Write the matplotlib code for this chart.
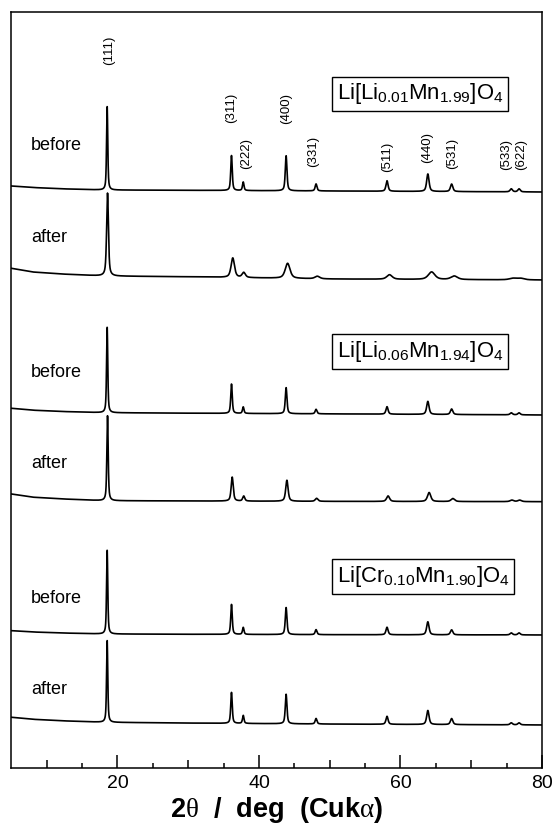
import numpy as np
import matplotlib
matplotlib.use("Agg")
import matplotlib.pyplot as plt

plt.rcParams['font.family'] = ['Liberation Sans', 'DejaVu Sans']
plt.rcParams['mathtext.fontset'] = 'custom'
plt.rcParams['mathtext.rm'] = 'Liberation Sans'
plt.rcParams['mathtext.it'] = 'Liberation Serif'
plt.rcParams['mathtext.bf'] = 'Liberation Sans:bold'

# peak indices and positions (2theta, deg)
hkl = ['(111)', '(311)', '(222)', '(400)', '(331)', '(511)', '(440)', '(531)', '(533)', '(622)']
pos_before = [18.55, 36.12, 37.78, 43.84, 48.07, 58.10, 63.87, 67.23, 75.66, 76.76]
pos_after1 = [18.60, 36.30, 37.85, 44.05, 48.25, 58.45, 64.40, 67.60, 75.90, 77.00]
pos_after2 = [18.60, 36.22, 37.85, 43.95, 48.15, 58.25, 64.05, 67.40, 75.75, 76.85]

# peak heights (arbitrary units) for each pattern, top to bottom
h1 = [84, 35, 8.5, 35, 7, 10.5, 17.5, 7.5, 3, 3]
h2 = [83, 19.5, 5, 15, 2.5, 4.5, 7.5, 3.5, 1.5, 1.5]
h3 = [86, 29.4, 6.5, 26, 4.5, 7.5, 13, 5.5, 2, 2]
h4 = [85, 24, 5, 21, 3, 5.5, 9, 3, 1.5, 1.5]
h5 = [84.3, 30, 7, 27, 5, 7.5, 13, 5, 2, 2]
h6 = [82.3, 31, 8, 29.5, 5.5, 8, 14, 6, 2, 2]

# peak widths (FWHM, deg)
w_sharp = [0.20, 0.25, 0.25, 0.28, 0.30, 0.35, 0.40, 0.40, 0.40, 0.40]
w_broad = [0.30, 0.57, 0.55, 0.80, 0.80, 0.90, 1.10, 1.10, 1.20, 1.20]
w_mid = [0.22, 0.35, 0.35, 0.40, 0.45, 0.50, 0.55, 0.60, 0.60, 0.60]

# background shape (relative to each baseline)
bg_x = [5, 8, 12, 18, 30, 50, 80]
bg1 = [4, 2.5, 1.2, 0, -0.3, -1, -2]
bg2 = [7.7, 4, 2, 0, -0.8, -3, -4]
bg3 = [4.4, 2.5, 1.2, 0, -0.5, -1.2, -2.3]
bg4 = [6.7, 3.5, 1.8, 0, -0.3, -0.7, -1]
bg5 = [3.3, 2, 1, 0, -0.3, -0.7, -1]
bg6 = [5, 3, 1.5, 0, -0.8, -1.8, -2.7]

offsets = [578.5, 492.5, 355.8, 267.8, 134.5, 46.2]
states = ['before', 'after', 'before', 'after', 'before', 'after']
state_y = [622.5, 530.8, 395.8, 304.5, 169.5, 78.8]

samples = [r'Li[Li$_{0.01}$Mn$_{1.99}$]O$_4$',
           r'Li[Li$_{0.06}$Mn$_{1.94}$]O$_4$',
           r'Li[Cr$_{0.10}$Mn$_{1.90}$]O$_4$']
sample_y = [674.5, 417.3, 192]

hkl_x = [18.81, 36.05, 38.13, 43.78, 47.69, 58.14, 63.71, 67.37, 74.91, 77.02]
hkl_y = [718.5, 660.5, 614.7, 660.2, 617.2, 611.5, 620.5, 615.2, 613.5, 613.5]

patterns = [
    (pos_before, h1, w_sharp, bg1),
    (pos_after1, h2, w_broad, bg2),
    (pos_before, h3, w_sharp, bg3),
    (pos_after2, h4, w_mid, bg4),
    (pos_before, h5, w_sharp, bg5),
    (pos_before, h6, w_sharp, bg6),
]


def profile(x, centers, heights, fwhm, eta=0.6):
    y = np.zeros_like(x)
    for c, h, w in zip(centers, heights, fwhm):
        g = np.exp(-4 * np.log(2) * ((x - c) / w) ** 2)
        l = 1 / (1 + 4 * ((x - c) / w) ** 2)
        y += h * (eta * l + (1 - eta) * g)
    return y


tt = np.linspace(5, 80, 4000)

fig = plt.figure(figsize=(5.56, 8.24), dpi=100)
ax = fig.add_axes([0.0203, 0.0674, 0.9545, 0.9184])

for (p, h, w, bg), off in zip(patterns, offsets):
    y = off + np.interp(tt, bg_x, bg) + profile(tt, p, h, w)
    ax.plot(tt, y, color='black', lw=1.2)

for s, ys in zip(states, state_y):
    ax.text(7.78, ys, s, fontsize=13, ha='left', va='center')

for s, ys in zip(samples, sample_y):
    ax.text(51.0, ys, s, fontsize=15.9, ha='left', va='center',
            bbox=dict(boxstyle='square,pad=0.22', fc='white', ec='black', lw=1.0))

for lab, xx, yy in zip(hkl, hkl_x, hkl_y):
    ax.text(xx, yy, lab, fontsize=9.5, rotation=90, ha='center', va='center')

ax.set_xlim(5, 80)
ax.set_ylim(0, 756.8)
ax.set_yticks([])
ax.set_xticks([20, 40, 60, 80])
ax.set_xticks([15, 25, 35, 45, 55, 65, 75], minor=True)
ax.tick_params(axis='x', which='major', direction='in', length=9.4, width=1.1,
               labelsize=14, pad=5)
ax.tick_params(axis='x', which='minor', direction='in', length=3.4, width=1.1)

sec = ax.secondary_xaxis(0)
sec.set_xticks([10, 30, 50, 70])
sec.tick_params(direction='in', length=5.5, width=1.1, labelbottom=False)
sec.spines['bottom'].set_visible(False)

for sp in ax.spines.values():
    sp.set_linewidth(1.1)

ax.set_xlabel(r'2$\theta$  /  deg  (Cuk$\alpha$)', fontsize=19.5,
              fontweight='bold', labelpad=2)

fig.savefig('out.png', dpi=100)
